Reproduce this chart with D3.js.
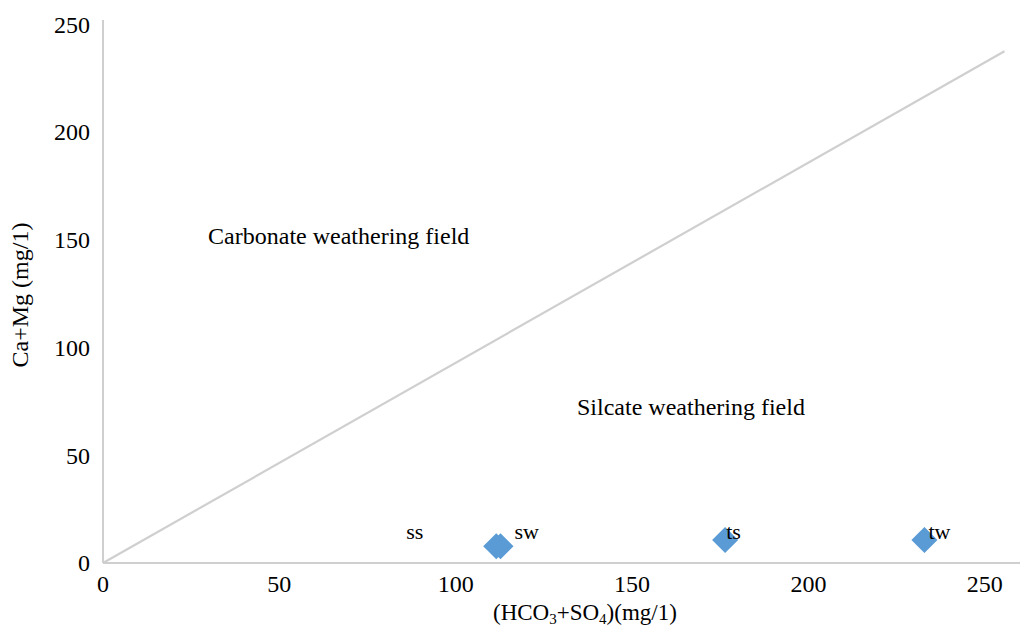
<!DOCTYPE html>
<html>
<head>
<meta charset="utf-8">
<script src="https://cdn.jsdelivr.net/npm/d3@7"></script>
<style>
  body { margin: 0; background: #fff; }
  text { font-family: "Liberation Serif", "Times New Roman", serif; fill: #000; }
</style>
</head>
<body>
<div id="chart"></div>
<script>
// sample points
var names = ["ss", "sw", "ts", "tw"];
var hco3so4 = [111.5, 112.7, 176.4, 232.9];
var camg = [7.8, 7.8, 10.7, 10.7];

// ticks
var xTicks = [0, 50, 100, 150, 200, 250];
var yTicks = [0, 50, 100, 150, 200, 250];

// 1:1 reference line ends
var lineX = [0, 255.6];
var lineY = [0, 237.5];

// field labels
var fieldNames = ["Carbonate weathering field", "Silcate weathering field"];
var fieldX = [29.8, 134.4];
var fieldY = [148, 68.7];

var width = 1022, height = 627;

var svg = d3.select("#chart").append("svg")
    .attr("width", width)
    .attr("height", height);

var x = d3.scaleLinear().domain([0, 260]).range([103, 1020]);
var y = d3.scaleLinear().domain([0, 252]).range([563, 20]);

var axisColor = "#cfcfcf";

// axis lines
svg.append("line")
    .attr("x1", x(0)).attr("x2", x(0))
    .attr("y1", y(0)).attr("y2", y.range()[1])
    .attr("stroke", axisColor).attr("stroke-width", 2);

svg.append("line")
    .attr("x1", x(0)).attr("x2", x.range()[1])
    .attr("y1", y(0)).attr("y2", y(0))
    .attr("stroke", axisColor).attr("stroke-width", 2);

// tick labels
svg.selectAll("text.xtick")
    .data(xTicks)
  .enter().append("text")
    .attr("class", "xtick")
    .attr("x", function(d) { return x(d); })
    .attr("y", y(0) + 29)
    .attr("text-anchor", "middle")
    .attr("font-size", 24)
    .text(function(d) { return d; });

svg.selectAll("text.ytick")
    .data(yTicks)
  .enter().append("text")
    .attr("class", "ytick")
    .attr("x", 90)
    .attr("y", function(d) { return y(d); })
    .attr("dy", "0.35em")
    .attr("text-anchor", "end")
    .attr("font-size", 24)
    .text(function(d) { return d; });

// diagonal line
svg.append("line")
    .attr("x1", x(lineX[0])).attr("y1", y(lineY[0]))
    .attr("x2", x(lineX[1])).attr("y2", y(lineY[1]))
    .attr("stroke", axisColor).attr("stroke-width", 2.2);

// field labels
svg.selectAll("text.field")
    .data(fieldNames)
  .enter().append("text")
    .attr("class", "field")
    .attr("x", function(d, i) { return x(fieldX[i]); })
    .attr("y", function(d, i) { return y(fieldY[i]); })
    .attr("font-size", 24)
    .text(function(d) { return d; });

// points
var points = names.map(function(n, i) { return {name: n, x: hco3so4[i], y: camg[i]}; });

var diamond = d3.symbol().type(d3.symbolSquare).size(340);

svg.selectAll("path.pt")
    .data(points)
  .enter().append("path")
    .attr("class", "pt")
    .attr("d", diamond)
    .attr("fill", "#5b9bd5")
    .attr("transform", function(d) {
      return "translate(" + x(d.x) + "," + y(d.y) + ") rotate(45)";
    });

// point labels (left edge offset from marker)
var labelDx = {ss: -90, sw: 14, ts: 1, tw: 4};
var labelBase = 539;

svg.selectAll("text.lbl")
    .data(points)
  .enter().append("text")
    .attr("class", "lbl")
    .attr("x", function(d) { return x(d.x) + labelDx[d.name]; })
    .attr("y", labelBase)
    .attr("font-size", 22)
    .text(function(d) { return d.name; });

// axis titles
svg.append("text")
    .attr("transform", "translate(28,295) rotate(-90)")
    .attr("text-anchor", "middle")
    .attr("font-size", 24)
    .text("Ca+Mg (mg/1)");

var xt = svg.append("text")
    .attr("x", 493)
    .attr("y", 620)
    .attr("font-size", 23);
xt.append("tspan").text("(HCO");
xt.append("tspan").attr("font-size", 15).attr("dy", 4).text("3");
xt.append("tspan").attr("dy", -4).text("+SO");
xt.append("tspan").attr("font-size", 15).attr("dy", 4).text("4");
xt.append("tspan").attr("dy", -4).text(")(mg/1)");
</script>
</body>
</html>
